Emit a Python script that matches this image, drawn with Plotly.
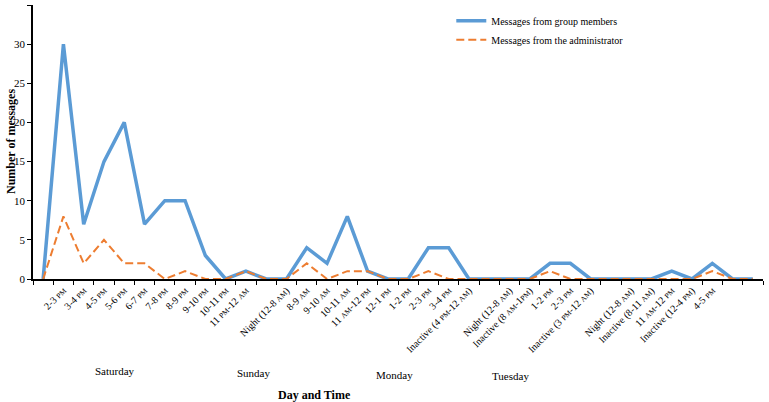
import plotly.graph_objects as go

SC = "<span style='font-size:7.5px'>{}</span>"
def pm(s):
    return s.replace("PM", SC.format("PM")).replace("AM", SC.format("AM"))

time_labels = [
    "", "2-3 PM", "3-4 PM", "4-5 PM", "5-6 PM", "6-7 PM", "7-8 PM", "8-9 PM", "9-10 PM",
    "10-11 PM", "11 PM-12 AM", "", "Night (12-8 AM)", "8-9 AM", "9-10 AM", "10-11 AM",
    "11 AM-12 PM", "12-1 PM", "1-2 PM", "2-3 PM", "3-4 PM", "Inactive (4 PM-12 AM)", "",
    "Night (12-8 AM)", "Inactive (8 AM-1PM)", "1-2 PM", "2-3 PM", "Inactive (3 PM-12 AM)", "",
    "Night (12-8 AM)", "Inactive (8-11 AM)", "11 AM-12 PM", "Inactive (12-4 PM)", "4-5 PM", "", "",
]
members = [0, 30, 7, 15, 20, 7, 10, 10, 3, 0, 1, 0, 0, 4, 2, 8, 1, 0, 0, 4, 4, 0, 0,
           0, 0, 2, 2, 0, 0, 0, 0, 1, 0, 2, 0, 0]
admin = [0, 8, 2, 5, 2, 2, 0, 1, 0, 0, 1, 0, 0, 2, 0, 1, 1, 0, 0, 1, 0, 0, 0,
         0, 0, 1, 0, 0, 0, 0, 0, 0, 0, 1, 0, 0]
days = ["Saturday", "Sunday", "Monday", "Tuesday"]
day_pos = [3.54, 10.4, 17.35, 23.07]
day_ypix = [371, 373, 375, 376]

x = list(range(len(time_labels)))
FONT = "Liberation Serif"

fig = go.Figure()
fig.add_trace(go.Scatter(x=x, y=members, mode="lines", name="Messages from group members",
                         line=dict(color="#5B9BD5", width=3.5)))
fig.add_trace(go.Scatter(x=x, y=admin, mode="lines", name="Messages from the administrator",
                         line=dict(color="#ED7D31", width=2, dash="8px,4px")))

plot_top, plot_bot = 5, 279
H = plot_bot - plot_top
for d, p, yp in zip(days, day_pos, day_ypix):
    fig.add_annotation(x=p, y=(plot_bot - yp) / H, xref="x", yref="paper", text=d,
                       xanchor="center", yanchor="middle",
                       showarrow=False, font=dict(family=FONT, size=11, color="black"))
fig.add_annotation(x=13.4, y=(plot_bot - 395) / H, xref="x", yref="paper", text="<b>Day and Time</b>",
                   xanchor="center", yanchor="middle",
                   showarrow=False, font=dict(family=FONT, size=12, color="black"))
fig.add_annotation(x=-22 / 730, y=0.5, xref="paper", yref="paper", xanchor="center", yanchor="middle",
                   text="<b>Number of messages</b>",
                   textangle=-90, showarrow=False, font=dict(family=FONT, size=12, color="black"))

fig.update_layout(
    width=769, height=402,
    margin=dict(l=33, r=6, t=plot_top, b=402 - plot_bot, autoexpand=False),
    paper_bgcolor="white", plot_bgcolor="white",
    font=dict(family=FONT, size=9, color="black"),
    showlegend=True,
    legend=dict(x=0.573, y=0.995, xanchor="left", yanchor="top",
                font=dict(family=FONT, size=10, color="black"), bgcolor="rgba(0,0,0,0)"),
    xaxis=dict(range=[-0.5, len(x) - 0.5], tickmode="array", tickvals=x, automargin=False,
               ticktext=[pm(t) for t in time_labels], tickangle=-45, ticks="",
               showline=True, linecolor="black", linewidth=1.5, showgrid=False, zeroline=False,
               tickfont=dict(family=FONT, size=10, color="black"),
               minor=dict(tickmode="array", tickvals=[i - 0.5 for i in range(len(x) + 1)],
                          ticks="outside", ticklen=4, tickcolor="black", tickwidth=1)),
    yaxis=dict(range=[0, 35], tickvals=[0, 5, 10, 15, 20, 25, 30, 35], ticks="outside",
               automargin=False,
               ticklen=4, tickcolor="black", showline=True, linecolor="black", linewidth=1.5,
               showgrid=False, zeroline=False, tickfont=dict(family=FONT, size=11, color="black")),
)

fig.write_html("out.html", config={"displayModeBar": False},
               post_script="document.body.style.margin='0';document.body.style.overflow='hidden';")
